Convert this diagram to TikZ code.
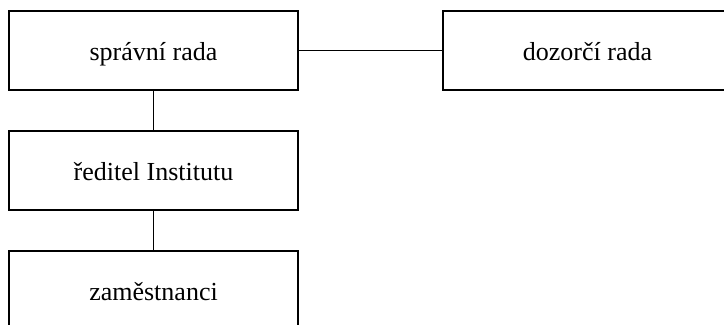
\documentclass[tikz,border=0pt]{standalone}
\usepackage{fontspec}
\setmainfont{Liberation Serif}
\begin{document}
\begin{tikzpicture}[x=1bp,y=1bp,
  orgbox/.style={draw=black, line width=1.4bp, minimum width=289bp, minimum height=79bp,
    inner sep=0pt, text height=25bp, text depth=5bp, font=\fontsize{26bp}{30bp}\selectfont},
  link/.style={draw=black, line width=1.6bp}]
\useasboundingbox (0,0) rectangle (724,-324);
\clip (0,0) rectangle (724,-324);
\fill[white] (0,0) rectangle (724,-324);
\node[orgbox] (spr) at (153.5,-50.5) {správní rada};
\node[orgbox] (doz) at (587.5,-50.5) {dozorčí rada};
\node[orgbox] (red) at (153.5,-170.5) {ředitel Institutu};
\node[orgbox] (zam) at (153.5,-290.5) {zaměstnanci};
\draw[link] (spr.east) -- (doz.west);
\draw[link] (spr.south) -- (red.north);
\draw[link] (red.south) -- (zam.north);
\end{tikzpicture}
\end{document}
